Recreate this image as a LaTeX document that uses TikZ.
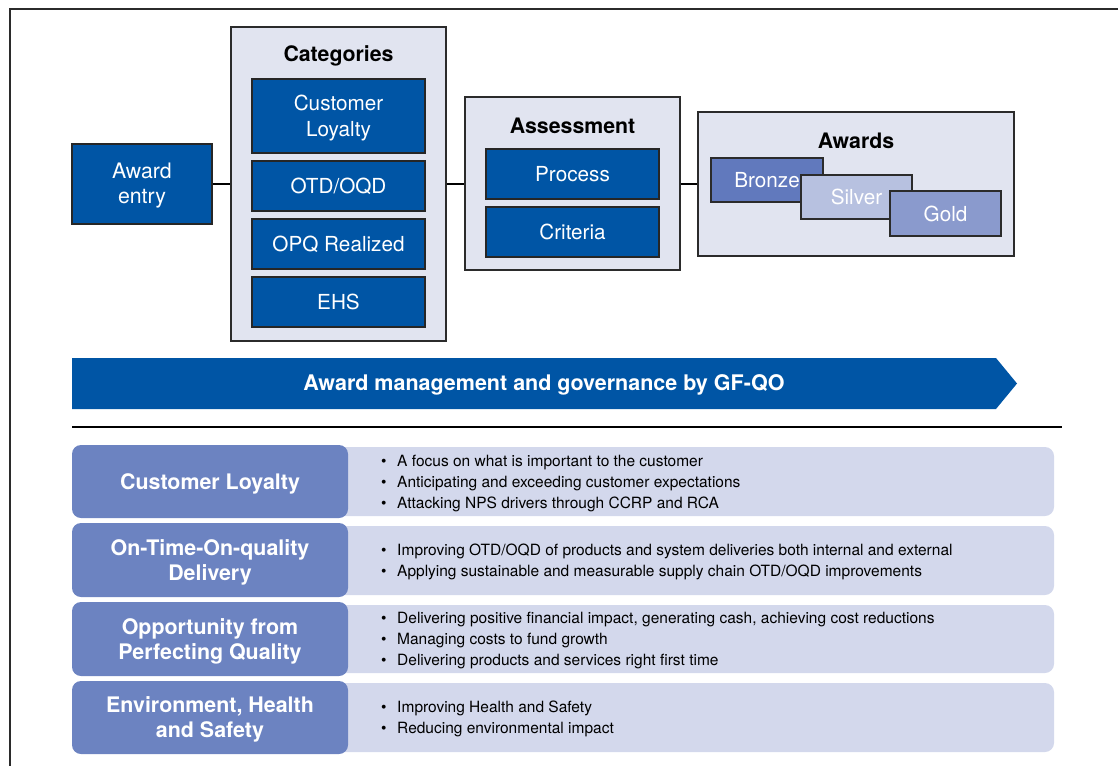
\documentclass[tikz,border=0pt]{standalone}
\usepackage{fontspec}
\setmainfont{TeX Gyre Heros}
\definecolor{gblue}{HTML}{0055A5}
\definecolor{cont}{HTML}{E1E4F0}
\definecolor{rowL}{HTML}{6C83C1}
\definecolor{rowR}{HTML}{D3D8EC}
\definecolor{bronze}{HTML}{6179BD}
\definecolor{silver}{HTML}{B7C1E0}
\definecolor{gold}{HTML}{8A9ACD}
\definecolor{edge}{HTML}{2B2B2B}
\newcommand\bl{\makebox[16pt][l]{\textbullet}}
\tikzset{
  bluebox/.style={draw=black!85, line width=1.3pt, fill=gblue, text=white, inner sep=0pt,
    minimum width=173pt, minimum height=50pt, align=center, font=\fontsize{20.7}{25}\selectfont},
  container/.style={draw=edge, line width=1.3pt, fill=cont, inner sep=0pt},
  ctitle/.style={font=\bfseries\fontsize{21.3}{25}\selectfont, inner sep=0pt},
  medal/.style={draw=edge, line width=1.3pt, inner sep=0pt, minimum width=111pt, minimum height=44pt,
    text=white, font=\fontsize{20.7}{25}\selectfont},
  link/.style={line width=1.3pt, black},
  rowleft/.style={fill=rowL, rounded corners=9pt, inner sep=0pt, minimum width=276pt, minimum height=73pt,
    text=white, align=center, font=\bfseries\fontsize{21.4}{25}\selectfont},
  rowright/.style={fill=rowR, rounded corners=9pt, inner sep=0pt, minimum width=724pt, minimum height=69pt},
  bul/.style={anchor=west, inner sep=0pt, align=left, font=\fontsize{15.5}{21}\selectfont}
}
\begin{document}
\begin{tikzpicture}[x=1pt,y=-1pt]
\useasboundingbox (0,0) rectangle (1118,765);
\begin{scope}
\clip (0,0) rectangle (1118,765);
\draw[line width=2pt, edge] (10,790) -- (10,9) -- (1140,9);
\end{scope}

% Award entry
\node[bluebox, minimum width=140pt, minimum height=80pt] (entry) at (142,184) {};
\node[text=white, align=center, inner sep=0pt, font=\fontsize{21.3}{25}\selectfont] (entrytext) at (142,186) {Award\\entry};

% Categories
\node[container, minimum width=215pt, minimum height=314pt] (cat) at (338.5,184) {};
\node[ctitle] (cattitle) at (338.5,55.5) {Categories};
\node[bluebox, minimum height=74pt] (cl) at (338.5,116) {};
\node[text=white, align=center, inner sep=0pt, font=\fontsize{20.7}{26}\selectfont] (cltext) at (338.5,118) {Customer\\Loyalty};
\node[bluebox] (otd) at (338.5,186) {OTD/OQD};
\node[bluebox] (opq) at (338.5,244) {OPQ Realized};
\node[bluebox] (ehs) at (338.5,302) {EHS};

% Assessment
\node[container, minimum width=215pt, minimum height=173pt] (ass) at (572.5,183.5) {};
\node[ctitle] (asstitle) at (572.5,125.5) {Assessment};
\node[bluebox] (proc) at (572.5,174) {Process};
\node[bluebox] (crit) at (572.5,232) {Criteria};

% Awards
\node[container, minimum width=316pt, minimum height=144pt] (aw) at (856,184) {};
\node[ctitle] (awtitle) at (856,140.5) {Awards};
\node[medal, fill=bronze, minimum width=112pt] (bronze) at (767,180) {Bronze};
\node[medal, fill=silver] (silver) at (856.5,197) {Silver};
\node[medal, fill=gold, minimum height=45pt] (gold) at (945.5,213.5) {Gold};

% connectors
\draw[link] (entry.east) -- (cat.west |- entry.east);
\draw[link] (cat.east |- entry.east) -- (ass.west |- entry.east);
\draw[link] (ass.east |- entry.east) -- (aw.west |- entry.east);

% arrow banner
\fill[gblue] (72,358) -- (996,358) -- (1017,383.5) -- (996,409) -- (72,409) -- cycle;
\node[text=white, font=\bfseries\fontsize{21.5}{25}\selectfont, inner sep=0pt] (gov) at (544,385)
  {Award management and governance by GF-QO};

% rule
\coordinate (r1) at (72,427);
\coordinate (r2) at (1062,427);
\draw[line width=1.3pt] (r1) -- (r2);

% rows
\node[rowright] (rr1) at (692,481.5) {};
\node[rowleft] (rl1) at (210,481.5) {};
\node[text=white, align=center, inner sep=0pt, font=\bfseries\fontsize{21.4}{25}\selectfont] (t1) at (210,484) {Customer Loyalty};
\node[bul] (b1) at (381,483.5) {\bl A focus on what is important to the customer\\
  \bl Anticipating and exceeding customer expectations\\
  \bl Attacking NPS drivers through CCRP and RCA};

\node[rowright] (rr2) at (692,560.5) {};
\node[rowleft, minimum height=74pt] (rl2) at (210,560) {};
\node[text=white, align=center, inner sep=0pt, font=\bfseries\fontsize{21.4}{25}\selectfont] (t2) at (210,562.5) {On-Time-On-quality\\Delivery};
\node[bul] (b2) at (381,562) {\bl Improving OTD/OQD of products and system deliveries both internal and external\\
  \bl Applying sustainable and measurable supply chain OTD/OQD improvements};

\node[rowright, minimum height=68pt] (rr3) at (692,639) {};
\node[rowleft, minimum height=74pt] (rl3) at (210,639) {};
\node[text=white, align=center, inner sep=0pt, font=\bfseries\fontsize{21.4}{25}\selectfont] (t3) at (210,641) {Opportunity from\\Perfecting Quality};
\node[bul] (b3) at (381,640.5) {\bl Delivering positive financial impact, generating cash, achieving cost reductions\\
  \bl Managing costs to fund growth\\
  \bl Delivering products and services right first time};

\node[rowright] (rr4) at (692,717.5) {};
\node[rowleft] (rl4) at (210,717.5) {};
\node[text=white, align=center, inner sep=0pt, font=\bfseries\fontsize{21.4}{25}\selectfont] (t4) at (210,719.5) {Environment, Health\\and Safety};
\node[bul] (b4) at (381,719) {\bl Improving Health and Safety\\
  \bl Reducing environmental impact};
\end{tikzpicture}
\end{document}
